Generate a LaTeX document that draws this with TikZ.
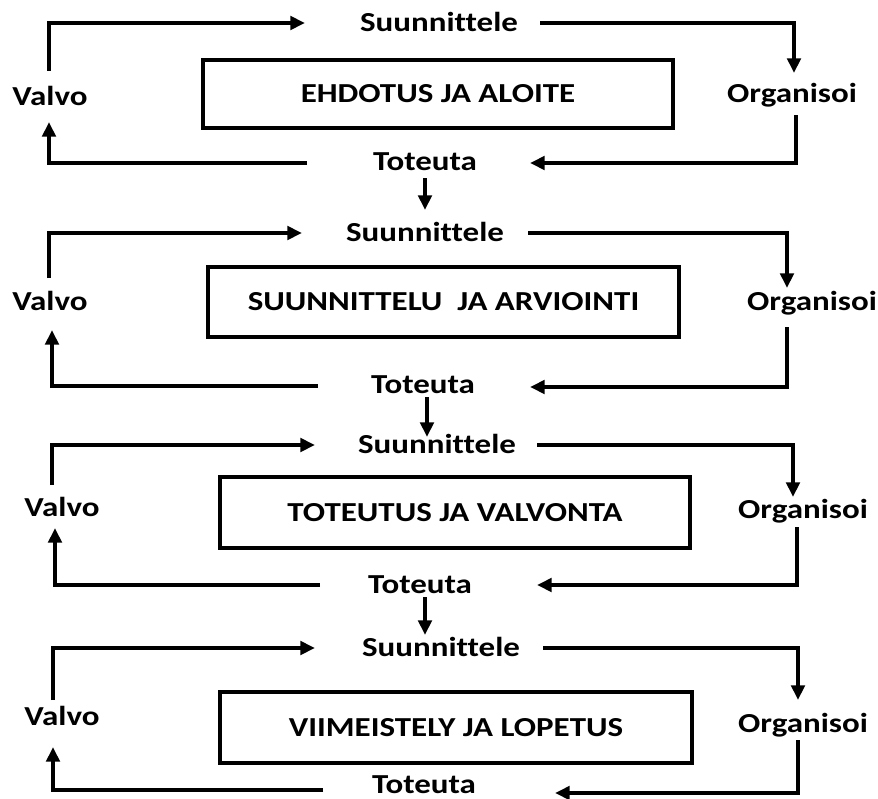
\documentclass[tikz,border=0pt]{standalone}
\usepackage{fontspec}
\setmainfont{Carlito}[FakeStretch=1.2, Ligatures=NoCommon]
\usetikzlibrary{arrows.meta,calc}
\begin{document}
\begin{tikzpicture}[x=0.75pt,y=-0.75pt,
  txt/.style={font=\bfseries\fontsize{20.6pt}{24pt}\selectfont,
    inner sep=0pt, text height=13.3pt, text depth=0pt},
  lbl/.style={txt},
  stage/.style={txt, draw, line width=3pt},
  flow/.style={line width=2.8pt, line join=miter,
    -{Triangle[length=11pt,width=10pt]}},
]
\useasboundingbox (0,0) rectangle (878,799);

% ---------- phase 1 ----------
\node[lbl] (v1) at (50,97) {Valvo};
\node[lbl] (s1) at (439,23) {Suunnittele};
\node[lbl] (o1) at (792,94) {Organisoi};
\node[lbl] (t1) at (425,162) {Toteuta};
\node[stage, minimum width=352.5pt, minimum height=51pt] (b1) at (438,94) {EHDOTUS JA ALOITE};

\draw[flow] ($(v1)+(-1,-26)$) |- ($(s1)+(-134,0)$);
\draw[flow] ($(s1)+(101,0)$) -| ($(o1)+(2,-21)$);
\draw[flow] ($(o1)+(4,21)$) |- ($(t1)+(105,1)$);
\draw[flow] ($(t1)+(-118,1)$) -| ($(v1)+(-1,25)$);

% ---------- phase 2 ----------
\node[lbl] (v2) at (50,302) {Valvo};
\node[lbl] (s2) at (425,233) {Suunnittele};
\node[lbl] (o2) at (812,302) {Organisoi};
\node[lbl] (t2) at (423,385) {Toteuta};
\node[stage, minimum width=353.25pt, minimum height=52.5pt] (b2) at (443.5,302) {SUUNNITTELU\ \ JA ARVIOINTI};

\draw[flow] ($(t1)+(0,16)$) -- ($(s2)+(0,-23)$);
\draw[flow] ($(v2)+(-1,-24)$) |- ($(s2)+(-123,0)$);
\draw[flow] ($(s2)+(103,0)$) -| ($(o2)+(-25,-14)$);
\draw[flow] ($(o2)+(-25,25)$) |- ($(t2)+(107,2)$);
\draw[flow] ($(t2)+(-105,1)$) -| ($(v2)+(2,28)$);

% ---------- phase 3 ----------
\node[lbl] (v3) at (62,508) {Valvo};
\node[lbl] (s3) at (437,445) {Suunnittele};
\node[lbl] (o3) at (803,510) {Organisoi};
\node[lbl] (t3) at (420,585) {Toteuta};
\node[stage, minimum width=352.5pt, minimum height=53.25pt] (b3) at (455,512.5) {TOTEUTUS JA VALVONTA};

\draw[flow] ($(t2)+(4,12)$) -- ($(s3)+(-10,-8)$);
\draw[flow] ($(v3)+(-10,-23)$) |- ($(s3)+(-122,0)$);
\draw[flow] ($(s3)+(100,0)$) -| ($(o3)+(-10,-13)$);
\draw[flow] ($(o3)+(-6,17)$) |- ($(t3)+(117,0)$);
\draw[flow] ($(t3)+(-100,0)$) -| ($(v3)+(-7,20)$);

% ---------- phase 4 ----------
\node[lbl] (v4) at (62,717) {Valvo};
\node[lbl] (s4) at (441,648) {Suunnittele};
\node[lbl] (o4) at (803,724) {Organisoi};
\node[lbl] (t4) at (424,785) {Toteuta};
\node[stage, minimum width=354pt, minimum height=53.25pt] (b4) at (456,727.5) {VIIMEISTELY JA LOPETUS};

\draw[flow] ($(t3)+(5,12)$) -- ($(s4)+(-16,-13)$);
\draw[flow] ($(v4)+(-9,-17)$) |- ($(s4)+(-126,0)$);
\draw[flow] ($(s4)+(102,0)$) -| ($(o4)+(-5,-24)$);
\draw[flow] ($(o4)+(-5,16)$) |- ($(t4)+(131,8)$);
\draw[flow] ($(t4)+(-101,5)$) -| ($(v4)+(-9,30)$);
\end{tikzpicture}
\end{document}
